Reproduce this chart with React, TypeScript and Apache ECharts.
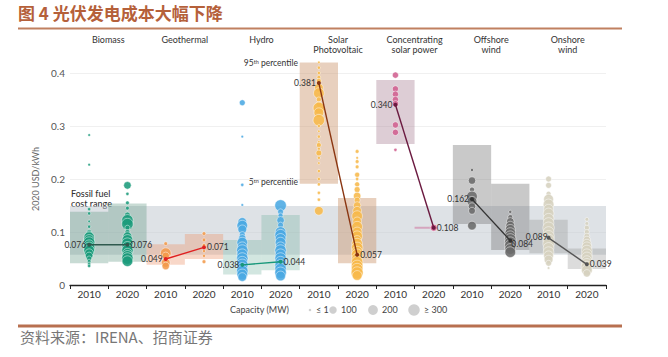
import React, { useEffect, useRef } from "react";
import * as echarts from "echarts";

// ---- data ----
const yearLabels = ["2010", "2020", "2010", "2020", "2010", "2020", "2010", "2020", "2010", "2020", "2010", "2020", "2010", "2020"];
const techNames = ["Biomass", "Geothermal", "Hydro", "Solar\nPhotovoltaic", "Concentrating\nsolar power", "Offshore\nwind", "Onshore\nwind"];
const yTicks = [0, 0.1, 0.2, 0.3, 0.4];

// weighted averages [2010, 2020]
const avgBiomass = [0.076, 0.076];
const avgGeothermal = [0.049, 0.071];
const avgHydro = [0.038, 0.044];
const avgSolarPV = [0.381, 0.057];
const avgCSP = [0.34, 0.108];
const avgOffshore = [0.162, 0.084];
const avgOnshore = [0.089, 0.039];

// 5th - 95th percentile ranges [low, high] per column
const rangeBiomass = [[0.041, 0.138], [0.044, 0.154]];
const rangeGeothermal = [[0.038, 0.077], [0.049, 0.096]];
const rangeHydro = [[0.02, 0.085], [0.028, 0.132]];
const rangeSolarPV = [[0.191, 0.42], [0.041, 0.164]];
const rangeCSP = [[0.266, 0.387], [0.108, 0.108]];
const rangeOffshore = [[0.115, 0.264], [0.066, 0.191]];
const rangeOnshore = [[0.06, 0.123], [0.03, 0.069]];

const fossilRange = [0.057, 0.149];

// projects [LCOE, capacity MW]
const biomass2010 = [[0.283, 1], [0.227, 1], [0.143, 5], [0.135, 5], [0.12, 1], [0.11, 5], [0.1, 30], [0.095, 100], [0.09, 250], [0.085, 250], [0.08, 300], [0.075, 250], [0.07, 300], [0.065, 250], [0.06, 150], [0.055, 100], [0.05, 30], [0.045, 10], [0.04, 5], [0.036, 5]];
const biomass2020 = [[0.188, 100], [0.172, 5], [0.155, 10], [0.145, 10], [0.132, 50], [0.122, 300], [0.115, 300], [0.108, 30], [0.1, 30], [0.092, 150], [0.085, 250], [0.078, 300], [0.072, 250], [0.065, 300], [0.06, 200], [0.055, 250], [0.05, 300], [0.045, 250]];
const geothermal2010 = [[0.078, 10], [0.06, 250], [0.055, 100], [0.042, 150], [0.036, 100]];
const geothermal2020 = [[0.097, 10], [0.085, 10], [0.075, 10], [0.064, 5], [0.055, 5], [0.044, 10]];
const hydro2010 = [[0.344, 50], [0.28, 1], [0.189, 5], [0.151, 1], [0.119, 150], [0.112, 250], [0.105, 150], [0.095, 50], [0.088, 100], [0.08, 250], [0.072, 200], [0.065, 300], [0.058, 250], [0.05, 300], [0.044, 250], [0.038, 300], [0.032, 250], [0.026, 300], [0.02, 250], [0.015, 150]];
const hydro2020 = [[0.15, 300], [0.138, 50], [0.131, 30], [0.122, 100], [0.113, 50], [0.1, 250], [0.094, 300], [0.087, 250], [0.08, 250], [0.072, 200], [0.065, 300], [0.058, 250], [0.05, 300], [0.044, 250], [0.037, 300], [0.03, 300], [0.023, 300], [0.017, 200]];
const solarPV2010 = [[0.42, 1], [0.41, 5], [0.4, 5], [0.392, 10], [0.385, 30], [0.372, 150], [0.362, 250], [0.35, 30], [0.341, 50], [0.334, 300], [0.325, 200], [0.311, 300], [0.3, 5], [0.29, 1], [0.28, 5], [0.27, 1], [0.264, 30], [0.257, 5], [0.249, 50], [0.24, 5], [0.23, 1], [0.215, 5], [0.2, 5], [0.19, 5], [0.174, 5], [0.161, 5], [0.14, 150]];
const solarPV2020 = [[0.252, 10], [0.24, 1], [0.233, 10], [0.223, 10], [0.208, 30], [0.2, 5], [0.19, 30], [0.18, 50], [0.168, 100], [0.16, 50], [0.15, 100], [0.14, 150], [0.13, 250], [0.12, 150], [0.11, 250], [0.1, 200], [0.092, 250], [0.085, 150], [0.078, 250], [0.07, 300], [0.063, 250], [0.057, 300], [0.05, 250], [0.043, 300], [0.036, 300], [0.03, 300], [0.023, 350], [0.018, 200]];
const csp2010 = [[0.396, 60], [0.37, 60], [0.36, 60], [0.35, 60], [0.342, 60], [0.302, 60], [0.288, 60], [0.255, 5]];
const csp2020 = [[0.108, 80]];
const offshore2010 = [[0.217, 5], [0.197, 100], [0.18, 30], [0.167, 250], [0.158, 200], [0.148, 100], [0.14, 80], [0.112, 150]];
const offshore2020 = [[0.138, 5], [0.128, 30], [0.12, 100], [0.112, 150], [0.105, 200], [0.098, 250], [0.092, 250], [0.086, 300], [0.08, 300], [0.074, 300], [0.068, 250], [0.062, 250]];
const onshore2010 = [[0.2, 50], [0.188, 50], [0.172, 30], [0.162, 200], [0.152, 250], [0.143, 200], [0.135, 250], [0.125, 250], [0.117, 250], [0.108, 300], [0.1, 250], [0.092, 300], [0.085, 300], [0.078, 300], [0.07, 250], [0.062, 250], [0.055, 200], [0.048, 150], [0.041, 50], [0.032, 1]];
const onshore2020 = [[0.124, 10], [0.116, 10], [0.108, 30], [0.1, 30], [0.092, 50], [0.085, 100], [0.078, 150], [0.072, 200], [0.065, 250], [0.058, 250], [0.052, 250], [0.046, 200], [0.04, 250], [0.034, 300], [0.028, 250], [0.022, 100]];

const legendCaps = ["≤ 1", "100", "200", "≥ 300"];
const legendCapValues = [1, 100, 200, 300];

// ---- styling ----
const techs = [
  { avg: avgBiomass, range: rangeBiomass, pts: [biomass2010, biomass2020], dot: "#1b9b7b", box: "rgba(95,150,128,0.34)", line: "#2f5a4f", lblOff: [[0, 0], [0, 0]] },
  { avg: avgGeothermal, range: rangeGeothermal, pts: [geothermal2010, geothermal2020], dot: "#f39a4a", box: "rgba(236,150,110,0.38)", line: "#e02020", lblOff: [[0, 0], [0, 0]] },
  { avg: avgHydro, range: rangeHydro, pts: [hydro2010, hydro2020], dot: "#4aa8e2", box: "rgba(115,178,158,0.32)", line: "#17977a", lblOff: [[0, 0], [0, 0]] },
  { avg: avgSolarPV, range: rangeSolarPV, pts: [solarPV2010, solarPV2020], dot: "#f7b84a", box: "rgba(205,150,110,0.45)", line: "#8a3510", lblOff: [[0, 0], [0, 0]] },
  { avg: avgCSP, range: rangeCSP, pts: [csp2010, csp2020], dot: "#d0608f", box: "rgba(170,130,150,0.4)", line: "#6b1a40", lblOff: [[0, 0], [0, 0]] },
  { avg: avgOffshore, range: rangeOffshore, pts: [offshore2010, offshore2020], dot: "#6a6a6a", box: "rgba(120,120,120,0.4)", line: "#333333", lblOff: [[0, 0], [-2, 4]] },
  { avg: avgOnshore, range: rangeOnshore, pts: [onshore2010, onshore2020], dot: "#d6d2bf", box: "rgba(140,140,140,0.3)", line: "#555555", lblOff: [[2, -1], [0, 0]] },
];

const capSize = (c: number) => Math.max(2, Math.min(12, 2 + Math.sqrt(c / 300) * 9.5));
const FONT = "Lato, 'Noto Sans', sans-serif";

export default function App() {
  const ref = useRef<HTMLDivElement>(null);
  useEffect(() => {
    if (!ref.current) return;
    const chart = echarts.init(ref.current, undefined, { renderer: "svg" });

    const boxData: any[] = [];
    techs.forEach((t, ti) => {
      t.range.forEach((r, yi) => boxData.push([ti * 2 + yi, r[0], r[1], ti]));
    });

    const series: any[] = [];
    // fossil fuel band
    series.push({
      type: "custom",
      z: 1,
      silent: true,
      data: [[0, 13, fossilRange[0], fossilRange[1]]],
      renderItem: (params: any, api: any) => {
        const a = api.coord([api.value(0), api.value(2)]);
        const b = api.coord([api.value(1), api.value(3)]);
        const w = api.size([1, 0])[0];
        return {
          type: "rect",
          shape: { x: a[0] - w / 2, y: b[1], width: b[0] - a[0] + w, height: a[1] - b[1] },
          style: { fill: "rgba(192,200,207,0.52)" },
        };
      },
    });
    // percentile boxes
    series.push({
      type: "custom",
      z: 2,
      silent: true,
      clip: false,
      data: boxData,
      renderItem: (params: any, api: any) => {
        const x = api.value(0);
        const lo = api.coord([x, api.value(1)]);
        const hi = api.coord([x, api.value(2)]);
        const w = api.size([1, 0])[0];
        const ti = api.value(3);
        if (lo[1] - hi[1] < 1) {
          return {
            type: "line",
            shape: { x1: lo[0] - w / 2, y1: lo[1], x2: lo[0], y2: lo[1] },
            style: { stroke: "rgba(210,150,180,0.8)", lineWidth: 2 },
          };
        }
        return {
          type: "rect",
          shape: { x: lo[0] - w / 2, y: hi[1], width: w, height: lo[1] - hi[1] },
          style: { fill: techs[ti].box },
        };
      },
    });
    // project bubbles
    techs.forEach((t, ti) => {
      t.pts.forEach((arr, yi) => {
        const xi = ti * 2 + yi;
        series.push({
          type: "scatter",
          z: 3,
          clip: false,
          silent: true,
          data: arr.map((p) => [xi, p[0], p[1]]),
          symbolSize: (v: number[]) => capSize(v[2]),
          itemStyle: { color: t.dot, opacity: 0.88, borderColor: "rgba(255,255,255,0.9)", borderWidth: 0.6 },
        });
      });
    });
    // weighted average lines
    techs.forEach((t, ti) => {
      series.push({
        type: "line",
        z: 5,
        silent: true,
        data: [
          { value: [ti * 2, t.avg[0]], label: { position: "left", distance: 1, offset: t.lblOff[0] } },
          { value: [ti * 2 + 1, t.avg[1]], label: { position: "right", distance: 1, offset: t.lblOff[1] } },
        ],
        symbol: "circle",
        symbolSize: 4,
        itemStyle: { color: t.line },
        lineStyle: { color: t.line, width: 1.4 },
        label: {
          show: true,
          fontSize: 8.5,
          fontFamily: FONT,
          color: "#333",
          formatter: (p: any) => p.value[1].toFixed(3),
        },
      });
    });

    const legendX = [310, 333, 373, 414];
    const legendTextX = [316, 341, 382, 424];
    const legendGraphics: any[] = [
      { type: "text", left: 230, top: 305, style: { text: "Capacity (MW)", fontSize: 9, fill: "#444", fontFamily: FONT } },
    ];
    legendCaps.forEach((c, i) => {
      legendGraphics.push({
        type: "circle",
        shape: { cx: legendX[i], cy: 310, r: capSize(legendCapValues[i]) / 2 },
        style: { fill: "#cfcfcf" },
      });
      legendGraphics.push({
        type: "text",
        left: legendTextX[i],
        top: 305,
        style: { text: c, fontSize: 9, fill: "#444", fontFamily: FONT },
      });
    });

    const sup = {
      a: { fontSize: 8.5, fill: "#333", fontFamily: FONT },
      s: { fontSize: 5.5, fill: "#333", verticalAlign: "top", fontFamily: FONT },
    };

    chart.setOption({
      animation: false,
      grid: { left: 70, right: 62, top: 73, bottom: 72 },
      xAxis: [
        {
          type: "category",
          data: yearLabels,
          boundaryGap: true,
          axisLine: { lineStyle: { color: "#222", width: 1.4 } },
          axisTick: { show: true, interval: 0, length: 4, lineStyle: { color: "#222" } },
          axisLabel: { interval: 0, fontSize: 10, color: "#333", margin: 4, fontFamily: FONT },
        },
        {
          type: "category",
          position: "top",
          data: techNames,
          axisLine: { show: false },
          axisTick: { show: false },
          axisLabel: { interval: 0, fontSize: 9, color: "#333", margin: 39, verticalAlign: "top", lineHeight: 10, fontFamily: FONT },
        },
      ],
      yAxis: {
        type: "value",
        min: yTicks[0],
        max: yTicks[yTicks.length - 1],
        interval: 0.1,
        name: "2020 USD/kWh",
        nameLocation: "middle",
        nameGap: 28,
        nameTextStyle: { fontSize: 9, color: "#666", fontFamily: FONT },
        axisLine: { show: false },
        axisTick: { show: false },
        axisLabel: { fontSize: 10, color: "#555", margin: 5, fontFamily: FONT, formatter: (v: number) => (v === 0 ? "0" : v.toFixed(1)) },
        splitLine: { lineStyle: { color: "#f0f0f0" } },
      },
      series,
      graphic: [
        { type: "text", left: 18, top: 4, style: { text: "图 4 光伏发电成本大幅下降", fontSize: 17, fontWeight: "bold", fill: "#b5603a", fontFamily: "'Noto Sans CJK SC', sans-serif" } },
        { type: "line", shape: { x1: 18, y1: 28.5, x2: 622, y2: 28.5 }, style: { stroke: "#c08060", lineWidth: 2 } },
        { type: "line", shape: { x1: 18, y1: 326, x2: 622, y2: 326 }, style: { stroke: "#b87050", lineWidth: 3 } },
        { type: "text", left: 20, top: 329, style: { text: "资料来源：IRENA、招商证券", fontSize: 15, fill: "#777", fontFamily: "'Noto Sans CJK SC', sans-serif" } },
        { type: "text", x: 298, y: 63, style: { text: "{a|95}{s|th}{a| percentile}", align: "right", verticalAlign: "middle", rich: sup } },
        { type: "text", x: 298, y: 182, style: { text: "{a|5}{s|th}{a| percentile}", align: "right", verticalAlign: "middle", rich: sup } },
        { type: "text", left: 71, top: 188, style: { text: "Fossil fuel\ncost range", fontSize: 9, lineHeight: 10, fill: "#333", fontWeight: 500, fontFamily: FONT } },
        ...legendGraphics,
      ],
    });
    return () => chart.dispose();
  }, []);
  return <div ref={ref} style={{ width: 668, height: 357, position: "absolute", left: 0, top: 0 }} />;
}
